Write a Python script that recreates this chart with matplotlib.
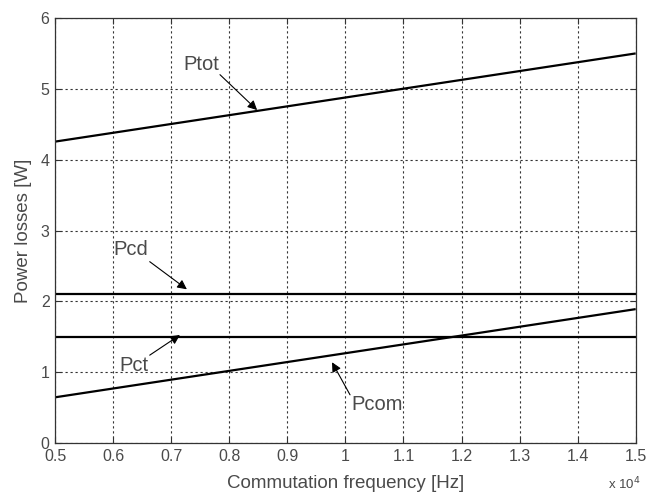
import matplotlib
matplotlib.use("Agg")
import matplotlib.pyplot as plt
from matplotlib.ticker import FuncFormatter

plt.rcParams['font.family'] = ['Liberation Sans', 'DejaVu Sans']

# Losses vs switching frequency
freq = [5000, 15000]
p_tot = [4.255, 5.50]
p_cd = [2.11, 2.11]
p_ct = [1.50, 1.50]
p_com = [0.645, 1.89]

x_ticks = [5000, 6000, 7000, 8000, 9000, 10000, 11000, 12000, 13000, 14000, 15000]
y_ticks = [0, 1, 2, 3, 4, 5, 6]

txt_color = '#4a4a4a'

fig = plt.figure(figsize=(6.48, 4.92), dpi=100)
ax = fig.add_axes([0.085, 0.0996, 0.896, 0.8638])

for y in (p_tot, p_cd, p_ct, p_com):
    ax.plot(freq, y, color='black', lw=1.6, solid_capstyle='butt')

ax.set_xlim(5000, 15000)
ax.set_ylim(0, 6)
ax.set_xticks(x_ticks)
ax.set_yticks(y_ticks)
ax.xaxis.set_major_formatter(FuncFormatter(lambda v, p: f"{v / 1e4:g}"))

ax.grid(True, color='#333333', lw=0.8, linestyle=(0, (2, 2.5)))
ax.tick_params(direction='in', top=True, right=True, length=4,
               color='#333333', labelsize=11.5, labelcolor=txt_color, pad=4)
for s in ax.spines.values():
    s.set_color('#333333')
    s.set_linewidth(0.9)

ax.set_xlabel('Commutation frequency [Hz]', fontsize=13.5, color=txt_color, labelpad=8)
ax.set_ylabel('Power losses [W]', fontsize=13.5, color=txt_color, labelpad=6)
ax.text(1.008, -0.116, r'x 10$^4$', transform=ax.transAxes, ha='right', va='bottom',
        fontsize=9.5, color=txt_color)

arrow = dict(arrowstyle='-|>', color='black', lw=0.8, mutation_scale=14,
             shrinkA=0, shrinkB=0)
notes = [
    ('Ptot', (7510, 5.34), (7840, 5.20), (8480, 4.70)),
    ('Pcd', (6310, 2.73), (6630, 2.56), (7270, 2.17)),
    ('Pct', (6360, 1.10), (6630, 1.24), (7150, 1.525)),
    ('Pcom', (10540, 0.54), (10080, 0.68), (9770, 1.14)),
]
for label, pos, tail, head in notes:
    ax.text(pos[0], pos[1], label, ha='center', va='center', fontsize=14.5, color=txt_color)
    ax.annotate('', xy=head, xytext=tail, arrowprops=arrow)

fig.savefig('out.png', dpi=100)
